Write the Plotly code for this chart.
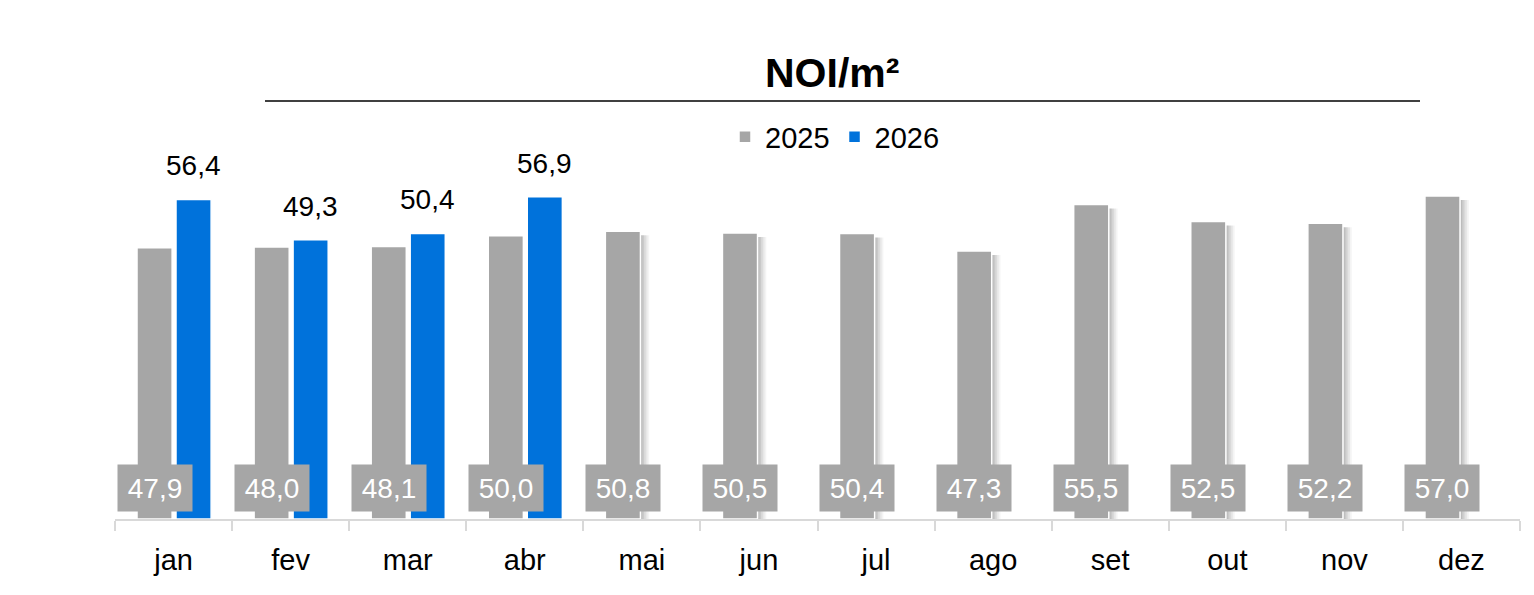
import plotly.graph_objects as go

months = ["jan", "fev", "mar", "abr", "mai", "jun", "jul", "ago", "set", "out", "nov", "dez"]
vals_2025 = [47.9, 48.0, 48.1, 50.0, 50.8, 50.5, 50.4, 47.3, 55.5, 52.5, 52.2, 57.0]
vals_2026 = [56.4, 49.3, 50.4, 56.9, None, None, None, None, None, None, None, None]

GRAY = "#a6a6a6"
BLUE = "#0072db"
FONT = "Liberation Sans, Arial, sans-serif"
FS = 28

def fmt(v):
    return f"{v:.1f}".replace(".", ",")

W_BAR = 0.30
OFF_G = -0.312
OFF_B = 0.021

# plot-area geometry (pixels)
L, R, T, B = 115, 14, 180, 76
pw = 1534 - L - R
ph = 595 - T - B
def px(x): return (x - L) / pw
def py(y): return (595 - B - y) / ph

shadow_vals = [g if b is None else None for g, b in zip(vals_2025, vals_2026)]

fig = go.Figure()
# soft shadow on the right side of gray bars
for dx, alpha in [(0.075, 0.045), (0.060, 0.05), (0.045, 0.06), (0.030, 0.07), (0.015, 0.08)]:
    fig.add_trace(go.Bar(
        x=months, y=[None if v is None else v - 0.7 for v in shadow_vals],
        offset=OFF_G + dx, width=W_BAR,
        marker=dict(color=f"rgba(0,0,0,{alpha})", line=dict(width=0)),
        showlegend=False, hoverinfo="skip",
    ))
fig.add_trace(go.Bar(
    x=months, y=vals_2025, name="2025",
    offset=OFF_G, width=W_BAR,
    marker=dict(color=GRAY, line=dict(color="white", width=1.5)),
))
fig.add_trace(go.Bar(
    x=months, y=vals_2026, name="2026",
    offset=OFF_B, width=W_BAR,
    marker=dict(color=BLUE, line=dict(color="white", width=1.5)),
))

# 2026 labels above bars
for i, v in enumerate(vals_2026):
    if v is None:
        continue
    fig.add_annotation(
        x=i + OFF_B + W_BAR / 2, y=v, xref="x", yref="y",
        text=fmt(v), showarrow=False, yanchor="bottom", yshift=16,
        font=dict(size=FS, color="black", family=FONT),
    )

# gray boxed labels at bar base
for i, v in enumerate(vals_2025):
    fig.add_annotation(
        x=i + OFF_G + W_BAR / 2, y=0, xref="x", yref="y",
        text=fmt(v), showarrow=False, yanchor="bottom", yshift=7,
        bgcolor=GRAY, width=72, height=44,
        font=dict(size=FS, color="white", family=FONT),
    )

# title
fig.add_annotation(
    x=px(832), y=py(73), xref="paper", yref="paper", text="<b>NOI/m²</b>",
    showarrow=False, xanchor="center", yanchor="middle",
    font=dict(size=41, color="black", family=FONT),
)
fig.add_shape(type="line", xref="paper", yref="paper",
              x0=px(265), x1=px(1420), y0=py(101), y1=py(101),
              line=dict(color="#404040", width=2))

fig.update_layout(
    width=1534, height=595,
    margin=dict(l=L, r=R, t=T, b=B),
    barmode="overlay",
    plot_bgcolor="white", paper_bgcolor="white",
    font=dict(family=FONT, size=FS, color="black"),
    showlegend=True,
    legend=dict(orientation="h", x=px(835), xanchor="center", y=py(137), yanchor="middle",
                font=dict(size=29), traceorder="normal", itemwidth=30),
)
fig.update_xaxes(
    showline=True, linecolor="#d9d9d9", linewidth=2,
    ticks="outside", tickson="boundaries", ticklen=10, tickcolor="#d9d9d9", tickwidth=2,
    tickfont=dict(size=29, color="black"), showgrid=False, ticklabelstandoff=14,
)
fig.update_yaxes(range=[0, 59.84], visible=False, showgrid=False)

fig.write_html("out.html")
